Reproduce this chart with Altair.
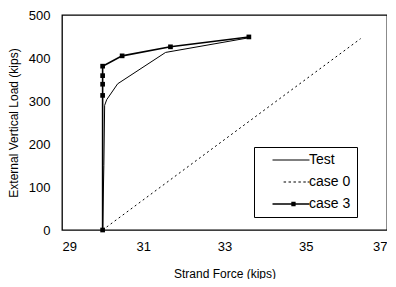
import altair as alt
import pandas as pd

series_names = ["Test", "case 0", "case 3"]

test_x = [30.0, 30.03, 30.05, 30.1, 30.37, 31.55, 33.6]
test_y = [0, 150, 290, 303, 340, 413, 447]

case0_x = [30.0, 36.35]
case0_y = [0, 445]

case3_x = [30.0, 30.0, 30.0, 30.0, 30.0, 30.48, 31.67, 33.6]
case3_y = [0, 313, 339, 359, 381, 405, 426, 449]

x_ticks = [29, 31, 33, 35, 37]
y_ticks = [0, 100, 200, 300, 400, 500]

rows = []
for name, xs, ys in zip(series_names, [test_x, case0_x, case3_x], [test_y, case0_y, case3_y]):
    for i, (xv, yv) in enumerate(zip(xs, ys)):
        rows.append({"series": name, "force": xv, "load": yv, "order": i})
df = pd.DataFrame(rows)

FONT = "Liberation Sans"

x_scale = alt.Scale(domain=[29, 37], nice=False)
y_scale = alt.Scale(domain=[0, 500], nice=False)

# legend glyphs drawn as filled paths (solid line, dashed line, line with square marker)
test_glyph = "M-3,-0.09H3V0.09H-3Z"
case0_glyph = "".join(
    f"M{a},-0.09H{b}V0.09H{a}Z" for a, b in [(-1.2, -0.8), (-0.4, 0.0), (0.4, 0.8), (1.2, 1.6), (2.0, 2.4), (2.7, 3.0)]
)
case3_glyph = "M-3,-0.12H3V0.12H-3ZM0.05,-0.35H0.75V0.35H0.05Z"
shape_scale = alt.Scale(domain=series_names, range=[test_glyph, case0_glyph, case3_glyph])

legend = alt.Legend(
    title=None, orient="none", legendX=192, legendY=132,
    padding=6, symbolOffset=24, labelOffset=11, rowPadding=8, symbolSize=152,
    strokeColor="black", fillColor="white",
    symbolFillColor="black", symbolOpacity=1, symbolStrokeWidth=0,
    labelFont=FONT, labelFontSize=14, labelColor="black",
)

x_enc = alt.X(
    "force:Q", scale=x_scale,
    axis=alt.Axis(values=x_ticks, title="Strand Force (kips)", grid=False, domain=False,
                  tickSize=0, labelPadding=10, titlePadding=15, format="d"),
)
y_enc = alt.Y(
    "load:Q", scale=y_scale,
    axis=alt.Axis(values=y_ticks, title="External Vertical Load (kips)", grid=False, domain=False,
                  tickSize=0, labelPadding=12, titlePadding=8, format="d"),
)

base = alt.Chart(df)

test_line = base.transform_filter(alt.datum.series == "Test").mark_line(
    color="black", strokeWidth=1
).encode(x=x_enc, y=y_enc, order="order:Q")

case0_line = base.transform_filter(alt.datum.series == "case 0").mark_line(
    color="black", strokeWidth=1, strokeDash=[2, 3]
).encode(x=x_enc, y=y_enc, order="order:Q")

case3_line = base.transform_filter(alt.datum.series == "case 3").mark_line(
    color="black", strokeWidth=1.6
).encode(x=x_enc, y=y_enc, order="order:Q")

markers = base.transform_filter(alt.datum.series == "case 3").mark_square(
    filled=True, color="black", opacity=1, size=22
).encode(x=x_enc, y=y_enc)

legend_layer = base.mark_point(filled=True, color="black", opacity=0, size=152).encode(
    x=x_enc,
    y=y_enc,
    shape=alt.Shape("series:N", scale=shape_scale, legend=legend),
)

chart = alt.layer(test_line, case0_line, case3_line, markers, legend_layer).properties(
    width=325, height=215,
    autosize=alt.AutoSizeParams(type="none"),
    padding={"left": 54, "top": 7, "right": 0, "bottom": 49},
).configure_view(
    stroke="black", strokeWidth=1.3
).configure_axis(
    labelFont=FONT, labelFontSize=13, labelColor="black",
    titleFont=FONT, titleFontSize=12, titleColor="black", titleFontWeight="normal",
).configure_legend(
    labelFont=FONT,
)

chart.save("out.html", embed_options={"renderer": "svg", "actions": False})
